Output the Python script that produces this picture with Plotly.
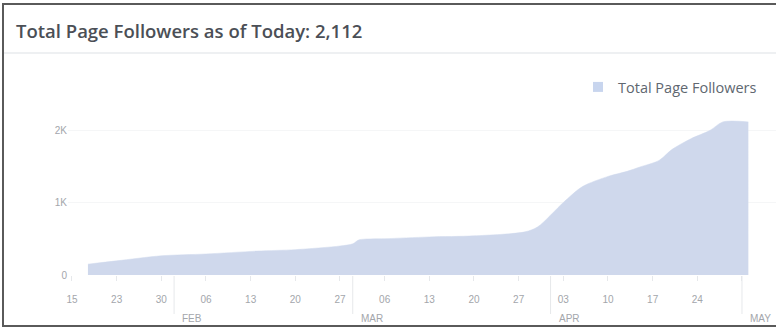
import plotly.graph_objects as go

# ---- data ----
dates = ["2018-01-18 12:00", "2018-01-23", "2018-01-30", "2018-02-06", "2018-02-14",
         "2018-02-20", "2018-02-27", "2018-03-01", "2018-03-02", "2018-03-06",
         "2018-03-13", "2018-03-20", "2018-03-28", "2018-03-30", "2018-04-03",
         "2018-04-06", "2018-04-10", "2018-04-13", "2018-04-15", "2018-04-18",
         "2018-04-20", "2018-04-23", "2018-04-26", "2018-04-28", "2018-05-02"]
followers = [150, 195, 265, 290, 330,
             350, 400, 430, 485, 500,
             525, 540, 595, 665, 1000,
             1220, 1360, 1430, 1490, 1580,
             1730, 1880, 1995, 2112, 2112]

tick_dates = ["2018-01-16", "2018-01-23", "2018-01-30", "2018-02-06", "2018-02-13",
              "2018-02-20", "2018-02-27", "2018-03-06", "2018-03-13", "2018-03-20",
              "2018-03-27", "2018-04-03", "2018-04-10", "2018-04-17", "2018-04-24",
              "2018-05-01"]
tick_labels = ["15", "23", "30", "06", "13", "20", "27", "06", "13", "20",
               "27", "03", "10", "17", "24", ""]
month_starts = ["2018-02-01", "2018-03-01", "2018-04-01", "2018-05-01"]
month_labels = ["FEB", "MAR", "APR", "MAY"]
y_ticks = [0, 1000, 2000]
y_labels = ["0", "1K", "2K"]

title_text = "Total Page Followers as of Today: 2,112"
series_name = "Total Page Followers"

FILL = "#cfd8ec"
GRAY = "#a3a6ab"

W, H = 776, 329
ML, MR, MT, MB = 68, 0, 100, 54
PW, PH = W - ML - MR, H - MT - MB


def px(x):
    return (x - ML) / PW


def py(y):
    return (H - MB - y) / PH


fig = go.Figure()
fig.add_trace(go.Scatter(
    x=dates, y=followers, mode="lines", fill="tozeroy",
    fillcolor=FILL, line=dict(color=FILL, width=0.5, shape="spline", smoothing=0.8),
    showlegend=False, hoverinfo="skip"))
fig.add_trace(go.Scatter(
    x=[None], y=[None], mode="markers", name=series_name,
    marker=dict(symbol="square", size=10, color="#c8d5ee")))

shapes = []
# outer frame
shapes.append(dict(type="rect", xref="paper", yref="paper",
                   x0=px(3), x1=px(790), y0=py(326), y1=py(4),
                   line=dict(color="#5a5a5a", width=2), fillcolor="rgba(0,0,0,0)", layer="below"))
# header separator
shapes.append(dict(type="line", xref="paper", yref="paper",
                   x0=px(4), x1=px(790), y0=py(53), y1=py(53),
                   line=dict(color="#e9ebee", width=1.5)))
# month separators
for m in month_starts:
    shapes.append(dict(type="line", xref="x", yref="paper", x0=m, x1=m,
                       y0=py(276), y1=py(314), line=dict(color="#e6e8eb", width=1)))

annotations = [dict(text=title_text, xref="paper", yref="paper", x=px(14), y=py(31),
                    xanchor="left", yanchor="middle", showarrow=False,
                    font=dict(family="Open Sans, sans-serif", size=18.5, weight=600, color="#4b4f56"))]
for m, lab in zip(month_starts, month_labels):
    annotations.append(dict(text=lab, xref="x", yref="paper", x=m, y=py(318),
                            xanchor="left", yanchor="middle", xshift=6, showarrow=False,
                            font=dict(family="Liberation Sans, Arial, sans-serif", size=10, color=GRAY)))

fig.update_layout(
    width=W, height=H, margin=dict(l=ML, r=MR, t=MT, b=MB),
    paper_bgcolor="white", plot_bgcolor="white",
    font=dict(family="Liberation Sans, Arial, sans-serif", size=10, color=GRAY),
    shapes=shapes, annotations=annotations,
    showlegend=True,
    legend=dict(x=px(578), y=py(87), xanchor="left", yanchor="middle",
                bgcolor="rgba(0,0,0,0)",
                font=dict(family="Open Sans, sans-serif", size=14.5, color="#606770"),
                itemclick=False),
    xaxis=dict(type="date", range=["2018-01-15 09:00", "2018-05-06 08:00"],
               tickmode="array", tickvals=tick_dates, ticktext=tick_labels,
               ticks="outside", ticklen=5, tickcolor="#e6e8eb", showgrid=False,
               ticklabelstandoff=10,
               showline=False, zeroline=False, tickfont=dict(size=10, color=GRAY)),
    yaxis=dict(range=[0, 2414], tickmode="array", tickvals=y_ticks, ticktext=y_labels,
               showgrid=True, gridcolor="#f5f6f7", zeroline=False, showline=False,
               ticks="", tickfont=dict(size=10, color=GRAY)),
)

fig.write_html("out.html")
